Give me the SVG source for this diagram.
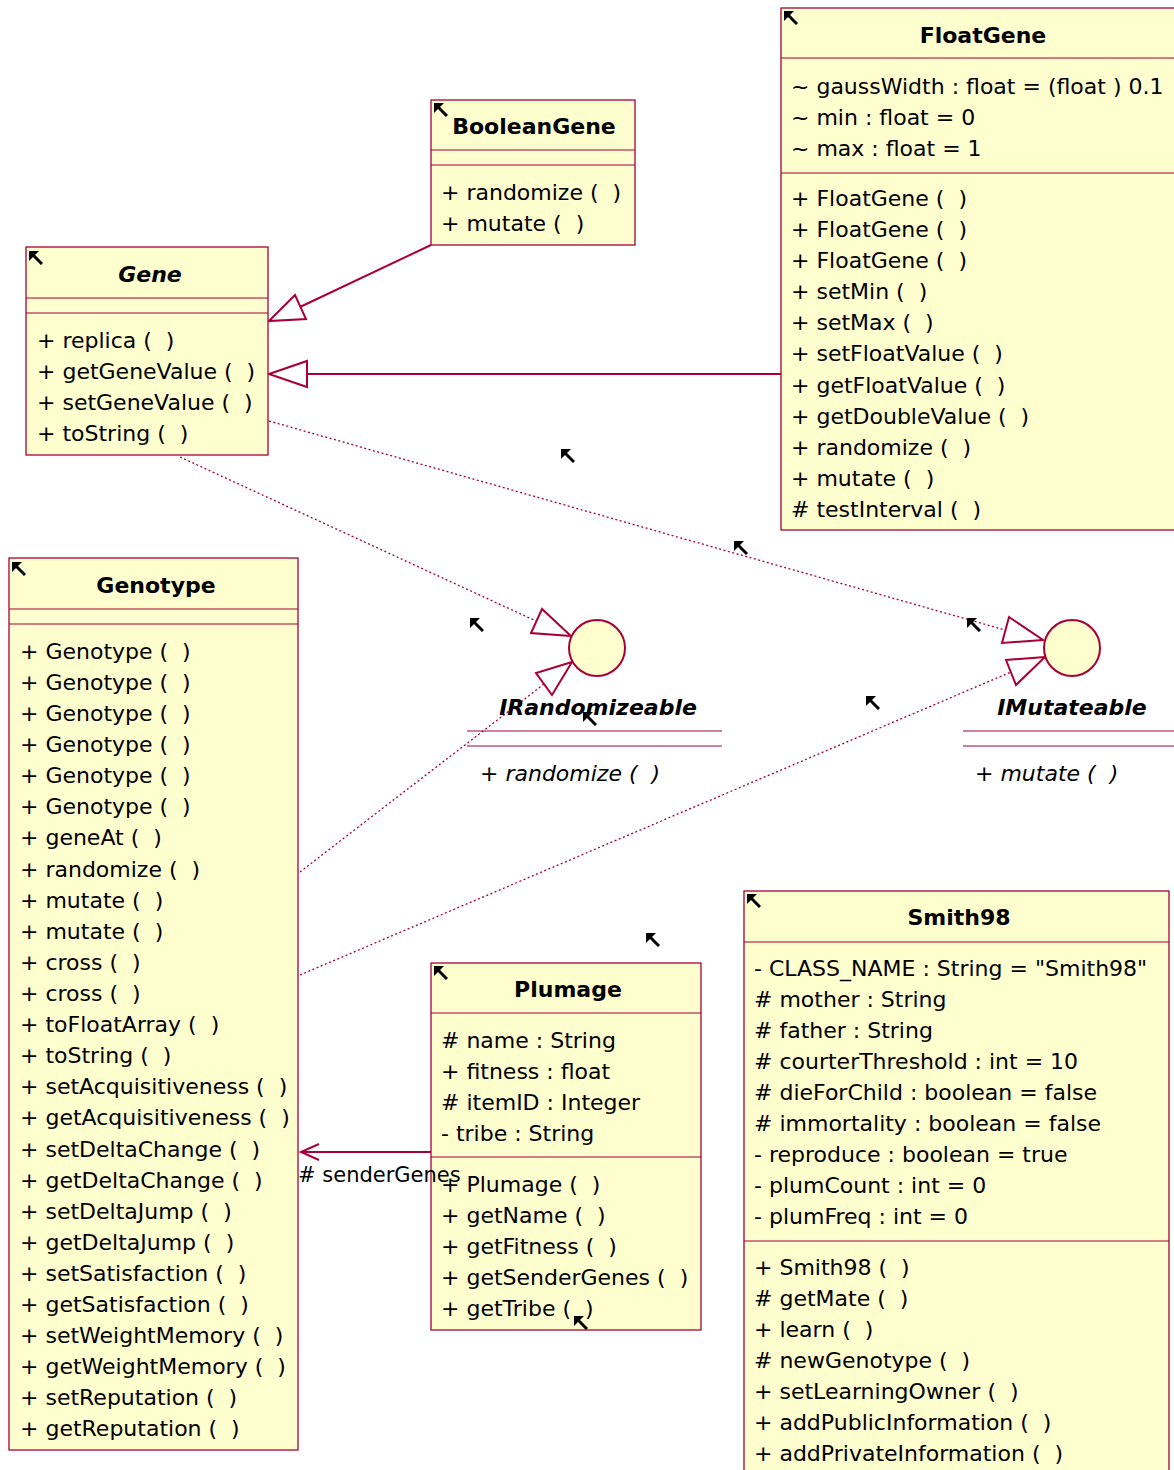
<svg xmlns="http://www.w3.org/2000/svg" xmlns:xlink="http://www.w3.org/1999/xlink" width="1174" height="1470" viewBox="0 0 1174 1470" xml:space="preserve">
<style>
.box{fill:#FEFECE;stroke:#A80036;stroke-width:1.3}
.sep{stroke:#A80036;stroke-width:1.1}
.t{font-family:"DejaVu Sans",Verdana,sans-serif;font-size:22px;fill:#000;white-space:pre}
.ti{font-family:"DejaVu Sans",Verdana,sans-serif;font-size:22px;font-style:italic;fill:#000;white-space:pre}
.h{font-family:"DejaVu Sans",Verdana,sans-serif;font-size:22px;font-weight:bold;fill:#000;text-anchor:middle}
.hi{font-family:"DejaVu Sans",Verdana,sans-serif;font-size:22px;font-weight:bold;font-style:italic;fill:#000;text-anchor:middle}
.gen{fill:none;stroke:#A80036;stroke-width:2}
.tri{fill:#fff;stroke:#A80036;stroke-width:2;stroke-linejoin:miter}
.dot{fill:none;stroke:#A80036;stroke-width:1.3;stroke-dasharray:2 2.5}
.iface{fill:#FEFECE;stroke:#A80036;stroke-width:2}
</style>
<defs>
<symbol id="nav" viewBox="0 0 14 14" width="14" height="14">
<polygon points="0,0 10,0 0,10" fill="#000"/>
<line x1="3" y1="3" x2="13" y2="13" stroke="#000" stroke-width="3"/>
</symbol>
</defs>
<rect width="1174" height="1470" fill="#fff"/>

<g id="connectors">
<line class="gen" x1="431" y1="245" x2="300" y2="307"/>
<polygon class="tri" points="269,321 295,295 306,319"/>
<line class="gen" x1="781" y1="374" x2="307" y2="374"/>
<polygon class="tri" points="269,374 307,361 307,387"/>
<line class="dot" x1="180" y1="457" x2="536" y2="621"/>
<polygon class="tri" points="571,636 531,633 542,609"/>
<line class="dot" x1="269" y1="421" x2="1005" y2="630"/>
<polygon class="tri" points="1043,640 1002,643 1009,617"/>
<line class="dot" x1="300" y1="872" x2="544" y2="684"/>
<polygon class="tri" points="572,662 536,673 552,695"/>
<line class="dot" x1="300" y1="975" x2="1011" y2="672"/>
<polygon class="tri" points="1045,657 1006,660 1016,685"/>
<line class="gen" x1="431" y1="1152" x2="301" y2="1152"/>
<polyline class="gen" points="319,1144 301,1152 319,1160"/>
</g>

<g id="Gene">
<rect class="box" x="26" y="247" width="242" height="208"/>
<line class="sep" x1="26" y1="298" x2="268" y2="298"/>
<line class="sep" x1="26" y1="313" x2="268" y2="313"/>
<text class="hi" x="150" y="282">Gene</text>
<text class="t" x="37" y="348">+ replica (  )</text>
<text class="t" x="37" y="379">+ getGeneValue (  )</text>
<text class="t" x="37" y="410">+ setGeneValue (  )</text>
<text class="t" x="37" y="441">+ toString (  )</text>
</g>

<g id="BooleanGene">
<rect class="box" x="431" y="100" width="204" height="145"/>
<line class="sep" x1="431" y1="150" x2="635" y2="150"/>
<line class="sep" x1="431" y1="165" x2="635" y2="165"/>
<text class="h" x="534" y="134">BooleanGene</text>
<text class="t" x="441" y="200">+ randomize (  )</text>
<text class="t" x="441" y="231">+ mutate (  )</text>
</g>

<g id="FloatGene">
<rect class="box" x="781" y="8" width="410" height="522"/>
<line class="sep" x1="781" y1="58" x2="1191" y2="58"/>
<line class="sep" x1="781" y1="173" x2="1191" y2="173"/>
<text class="h" x="983" y="43">FloatGene</text>
<text class="t" x="791" y="94">~ gaussWidth : float = (float ) 0.1</text>
<text class="t" x="791" y="125">~ min : float = 0</text>
<text class="t" x="791" y="156">~ max : float = 1</text>
<text class="t" x="791" y="206">+ FloatGene (  )</text>
<text class="t" x="791" y="237">+ FloatGene (  )</text>
<text class="t" x="791" y="268">+ FloatGene (  )</text>
<text class="t" x="791" y="299">+ setMin (  )</text>
<text class="t" x="791" y="330">+ setMax (  )</text>
<text class="t" x="791" y="361">+ setFloatValue (  )</text>
<text class="t" x="791" y="393">+ getFloatValue (  )</text>
<text class="t" x="791" y="424">+ getDoubleValue (  )</text>
<text class="t" x="791" y="455">+ randomize (  )</text>
<text class="t" x="791" y="486">+ mutate (  )</text>
<text class="t" x="791" y="517"># testInterval (  )</text>
</g>

<g id="IRandomizeable">
<circle class="iface" cx="597" cy="648" r="28"/>
<text class="hi" x="598" y="715">IRandomizeable</text>
<line class="sep" x1="467" y1="731" x2="722" y2="731"/>
<line class="sep" x1="467" y1="746" x2="722" y2="746"/>
<text class="ti" x="480" y="781">+ randomize (  )</text>
</g>

<g id="IMutateable">
<circle class="iface" cx="1072" cy="648" r="28"/>
<text class="hi" x="1072" y="715">IMutateable</text>
<line class="sep" x1="963" y1="731" x2="1174" y2="731"/>
<line class="sep" x1="963" y1="746" x2="1174" y2="746"/>
<text class="ti" x="975" y="781">+ mutate (  )</text>
</g>

<g id="Genotype">
<rect class="box" x="9" y="558" width="289" height="892"/>
<line class="sep" x1="9" y1="609" x2="298" y2="609"/>
<line class="sep" x1="9" y1="624" x2="298" y2="624"/>
<text class="h" x="156" y="593">Genotype</text>
<text class="t" x="20" y="659">+ Genotype (  )</text>
<text class="t" x="20" y="690">+ Genotype (  )</text>
<text class="t" x="20" y="721">+ Genotype (  )</text>
<text class="t" x="20" y="752">+ Genotype (  )</text>
<text class="t" x="20" y="783">+ Genotype (  )</text>
<text class="t" x="20" y="814">+ Genotype (  )</text>
<text class="t" x="20" y="845">+ geneAt (  )</text>
<text class="t" x="20" y="877">+ randomize (  )</text>
<text class="t" x="20" y="908">+ mutate (  )</text>
<text class="t" x="20" y="939">+ mutate (  )</text>
<text class="t" x="20" y="970">+ cross (  )</text>
<text class="t" x="20" y="1001">+ cross (  )</text>
<text class="t" x="20" y="1032">+ toFloatArray (  )</text>
<text class="t" x="20" y="1063">+ toString (  )</text>
<text class="t" x="20" y="1094">+ setAcquisitiveness (  )</text>
<text class="t" x="20" y="1125">+ getAcquisitiveness (  )</text>
<text class="t" x="20" y="1157">+ setDeltaChange (  )</text>
<text class="t" x="20" y="1188">+ getDeltaChange (  )</text>
<text class="t" x="20" y="1219">+ setDeltaJump (  )</text>
<text class="t" x="20" y="1250">+ getDeltaJump (  )</text>
<text class="t" x="20" y="1281">+ setSatisfaction (  )</text>
<text class="t" x="20" y="1312">+ getSatisfaction (  )</text>
<text class="t" x="20" y="1343">+ setWeightMemory (  )</text>
<text class="t" x="20" y="1374">+ getWeightMemory (  )</text>
<text class="t" x="20" y="1405">+ setReputation (  )</text>
<text class="t" x="20" y="1436">+ getReputation (  )</text>
</g>

<g id="Plumage">
<rect class="box" x="431" y="963" width="270" height="367"/>
<line class="sep" x1="431" y1="1013" x2="701" y2="1013"/>
<line class="sep" x1="431" y1="1157" x2="701" y2="1157"/>
<text class="h" x="568" y="997">Plumage</text>
<text class="t" x="441" y="1048"># name : String</text>
<text class="t" x="441" y="1079">+ fitness : float</text>
<text class="t" x="441" y="1110"># itemID : Integer</text>
<text class="t" x="441" y="1141">- tribe : String</text>
<text class="t" x="441" y="1192">+ Plumage (  )</text>
<text class="t" x="441" y="1223">+ getName (  )</text>
<text class="t" x="441" y="1254">+ getFitness (  )</text>
<text class="t" x="441" y="1285">+ getSenderGenes (  )</text>
<text class="t" x="441" y="1316">+ getTribe (  )</text>
</g>

<g id="Smith98">
<rect class="box" x="744" y="891" width="425" height="600"/>
<line class="sep" x1="744" y1="942" x2="1169" y2="942"/>
<line class="sep" x1="744" y1="1241" x2="1169" y2="1241"/>
<text class="h" x="959" y="925">Smith98</text>
<text class="t" x="754" y="976">- CLASS_NAME : String = "Smith98"</text>
<text class="t" x="754" y="1007"># mother : String</text>
<text class="t" x="754" y="1038"># father : String</text>
<text class="t" x="754" y="1069"># courterThreshold : int = 10</text>
<text class="t" x="754" y="1100"># dieForChild : boolean = false</text>
<text class="t" x="754" y="1131"># immortality : boolean = false</text>
<text class="t" x="754" y="1162">- reproduce : boolean = true</text>
<text class="t" x="754" y="1193">- plumCount : int = 0</text>
<text class="t" x="754" y="1224">- plumFreq : int = 0</text>
<text class="t" x="754" y="1275">+ Smith98 (  )</text>
<text class="t" x="754" y="1306"># getMate (  )</text>
<text class="t" x="754" y="1337">+ learn (  )</text>
<text class="t" x="754" y="1368"># newGenotype (  )</text>
<text class="t" x="754" y="1399">+ setLearningOwner (  )</text>
<text class="t" x="754" y="1430">+ addPublicInformation (  )</text>
<text class="t" x="754" y="1461">+ addPrivateInformation (  )</text>
</g>

<g id="labels">
<text class="t" x="298" y="1182" style="font-size:21px"># senderGenes</text>
</g>

<g id="icons">
<use xlink:href="#nav" x="29" y="251"/>
<use xlink:href="#nav" x="434" y="103"/>
<use xlink:href="#nav" x="784" y="11"/>
<use xlink:href="#nav" x="12" y="562"/>
<use xlink:href="#nav" x="434" y="966"/>
<use xlink:href="#nav" x="747" y="894"/>
<use xlink:href="#nav" x="561" y="449"/>
<use xlink:href="#nav" x="734" y="541"/>
<use xlink:href="#nav" x="470" y="618"/>
<use xlink:href="#nav" x="583" y="712"/>
<use xlink:href="#nav" x="967" y="618"/>
<use xlink:href="#nav" x="866" y="696"/>
<use xlink:href="#nav" x="646" y="933"/>
<use xlink:href="#nav" x="574" y="1316"/>
</g>
</svg>
